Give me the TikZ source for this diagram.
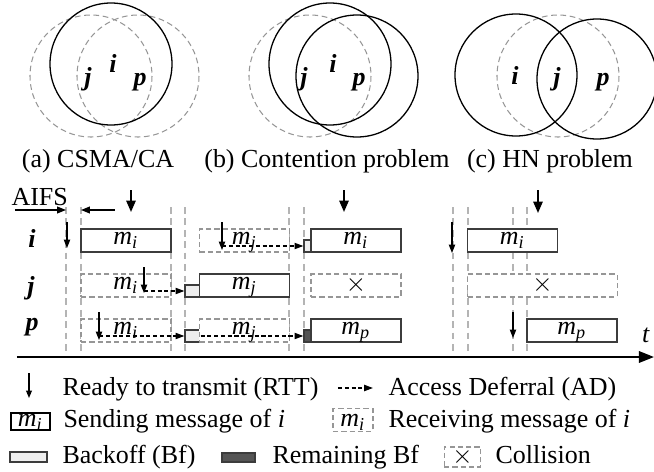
\documentclass[tikz,border=0pt]{standalone}
\usepackage{amsmath}
\usepackage{fontspec}
\setmainfont{Liberation Serif}
\usetikzlibrary{arrows.meta}
\definecolor{boxgray}{RGB}{60, 60, 60}
\definecolor{dashgray}{RGB}{150, 150, 150}
\definecolor{slotgray}{RGB}{180, 180, 180}
\definecolor{bflight}{RGB}{238, 238, 238}
\definecolor{bfdark}{RGB}{85, 85, 85}

\begin{document}
\begin{tikzpicture}[x=0.385pt, y=-0.385pt,
  rangeline/.style={line width=0.5pt},
  rangedash/.style={dashgray, line width=0.4pt, dash pattern=on 2.2pt off 1.4pt},
  sendbox/.style={draw=boxgray, line width=0.55pt, fill=white, inner sep=0pt, minimum width=34.65pt, minimum height=8.86pt, text height=5.86pt, text depth=3pt},
  recvbox/.style={sendbox, draw=dashgray, line width=0.4pt, dash pattern=on 2pt off 1.2pt},
  colbox/.style={recvbox, text height=6.93pt, text depth=1.93pt},
  bfbox/.style={draw=boxgray, line width=0.45pt, fill=bflight, inner sep=0pt, minimum width=2.7pt, minimum height=4.62pt},
  rembox/.style={bfbox, fill=bfdark},
  rtt/.style={line width=0.5pt, -{Triangle[length=3.2pt, width=2.4pt]}},
  rtttop/.style={line width=0.7pt, -{Triangle[length=4.4pt, width=3.6pt]}},
  ad/.style={line width=0.45pt, dash pattern=on 1.6pt off 1pt, -{Triangle[length=3.4pt, width=2.4pt]}},
  slot/.style={slotgray, line width=0.4pt, dash pattern=on 2.6pt off 1.8pt},
  axisline/.style={line width=0.75pt, -{Triangle[length=5.8pt, width=4.4pt]}},
  nodelbl/.style={font=\bfseries\itshape, anchor=base, inner sep=0pt},
  captxt/.style={anchor=base, inner sep=0pt},
  legendtxt/.style={anchor=base west, inner sep=0pt}
]
  \useasboundingbox (0,0) rectangle (654,472);

  % (a) CSMA/CA
  \draw[rangedash] (91,76) circle[radius=61];
  \draw[rangedash] (138,76) circle[radius=61];
  \draw[rangeline] (111,64) circle[radius=61];
  \node[nodelbl] (ja) at (88,85) {j};
  \node[nodelbl] (ia) at (113,72) {i};
  \node[nodelbl] (pa) at (140,85) {p};
  \node[captxt] (capa) at (98,167) {(a) CSMA/CA};

  % (b) Contention problem
  \draw[rangedash] (310,76) circle[radius=61];
  \draw[rangeline] (330,64) circle[radius=61];
  \draw[rangeline] (357,76) circle[radius=61];
  \node[nodelbl] (jb) at (304,85) {j};
  \node[nodelbl] (ib) at (333,72) {i};
  \node[nodelbl] (pb) at (359,85) {p};
  \node[captxt] (capb) at (327,167) {(b) Contention problem};

  % (c) HN problem
  \draw[rangedash] (558,76) circle[radius=61];
  \draw[rangeline] (516,75) circle[radius=61];
  \draw[rangeline] (597,79) circle[radius=60];
  \node[nodelbl] (ic) at (515,84) {i};
  \node[nodelbl] (jc) at (557,85) {j};
  \node[nodelbl] (pc) at (603,85) {p};
  \node[captxt] (capc) at (550,167) {(c) HN problem};

  % time slots
  \foreach \sx in {66,81,171,185,289,304,453,468,513,527}
    \draw[slot] (\sx,207) -- (\sx,352);

  % AIFS
  \node[legendtxt] (aifs) at (11,205) {AIFS};
  \coordinate (aifsl) at (66,210);
  \coordinate (aifsr) at (81,210);
  \draw[line width=0.5pt, -{Triangle[length=3.4pt, width=2.6pt]}] (15,210) -- (aifsl);
  \draw[line width=0.5pt, -{Triangle[length=3.4pt, width=2.6pt]}] (115,210) -- (aifsr);

  % station labels
  \node[nodelbl] (rowi) at (32,247) {i};
  \node[nodelbl] (rowj) at (31,294) {j};
  \node[nodelbl] (rowp) at (32,330) {p};

  % station i
  \node[sendbox] (i1) at (126,240.5) {$\textit{m}_{\textit{i}}$};
  \node[recvbox] (i2) at (244.5,240.5) {$\textit{m}_{\textit{j}}$};
  \node[bfbox] (ibf) at (307.5,246) {};
  \node[sendbox] (i3) at (356,240.5) {$\textit{m}_{\textit{i}}$};
  \node[sendbox] (i4) at (512.5,240.5) {$\textit{m}_{\textit{i}}$};

  % station j
  \node[recvbox] (j1) at (126,285.5) {$\textit{m}_{\textit{i}}$};
  \node[bfbox, minimum width=5.78pt] (jbf) at (192.5,291) {};
  \node[sendbox] (j2) at (244.5,285.5) {$\textit{m}_{\textit{j}}$};
  \node[colbox] (j3) at (356,285.5) {$\times$};
  \node[colbox, minimum width=57.4pt] (j4) at (542.5,285.5) {$\times$};

  % station p
  \node[recvbox] (p1) at (126,330.5) {$\textit{m}_{\textit{i}}$};
  \node[bfbox, minimum width=5.78pt] (pbf) at (192.5,336) {};
  \node[recvbox] (p2) at (244.5,330.5) {$\textit{m}_{\textit{j}}$};
  \node[rembox] (prem) at (307.5,336) {};
  \node[sendbox] (p3) at (356,330.5) {$\textit{m}_{\textit{p}}$};
  \node[sendbox] (p4) at (572,330.5) {$\textit{m}_{\textit{p}}$};

  % ready to transmit
  \draw[rtttop] (131,190) -- (131,212);
  \draw[rtttop] (344,190) -- (344,212);
  \draw[rtttop] (538,190) -- (538,213);
  \draw[rtt] (67,222) -- (67,248);
  \draw[rtt] (222,222) -- (222,250);
  \draw[rtt] (452,222) -- (452,253);
  \draw[rtt] (144,267) -- (144,293);
  \draw[rtt] (99,312) -- (99,340);
  \draw[rtt] (513,312) -- (513,338);

  % access deferral
  \draw[ad] (222,246) -- (ibf.west);
  \draw[ad] (144,291) -- (jbf.west);
  \draw[ad] (99,336) -- (pbf.west);
  \draw[ad] (pbf.east) -- (prem.west);

  % time axis
  \coordinate (tend) at (654,357);
  \draw[axisline] (17,357) -- (tend);
  \node[anchor=base, inner sep=0pt] (tlbl) at (646,343) {\textit{t}};

  % legend
  \draw[line width=0.45pt, -{Triangle[length=2.8pt, width=2.2pt]}] (29,373) -- (29,398);
  \node[legendtxt] (lrtt) at (62,395) {Ready to transmit (RTT)};
  \draw[ad] (338,388) -- (373,388);
  \node[legendtxt] (lad) at (388,395) {Access Deferral (AD)};
  \node[sendbox, draw=black, line width=0.45pt, minimum width=15pt, minimum height=6.55pt, text height=5.05pt, text depth=1.5pt] (lsend) at (30.5,421.5) {$\textit{m}_{\textit{i}}$};
  \node[legendtxt] (lsendt) at (63,427) {Sending message of \textit{i}};
  \node[recvbox, minimum width=15.4pt, minimum height=8.5pt, text height=6.9pt, text depth=1.6pt] (lrecv) at (353,420) {$\textit{m}_{\textit{i}}$};
  \node[legendtxt] (lrecvt) at (388,427) {Receiving message of \textit{i}};
  \node[bfbox, minimum width=14.2pt, minimum height=3.85pt] (lbf) at (28.5,457) {};
  \node[legendtxt] (lbft) at (62,463) {Backoff (Bf)};
  \node[rembox, minimum width=12.7pt, minimum height=3.5pt] (lrem) at (238.5,457.5) {};
  \node[legendtxt] (lremt) at (272,463) {Remaining Bf};
  \node[colbox, minimum width=14.2pt, minimum height=7.7pt, text height=6.35pt, text depth=1.35pt] (lcol) at (462.5,457) {$\times$};
  \node[legendtxt] (lcolt) at (495,463) {Collision};
\end{tikzpicture}
\end{document}
